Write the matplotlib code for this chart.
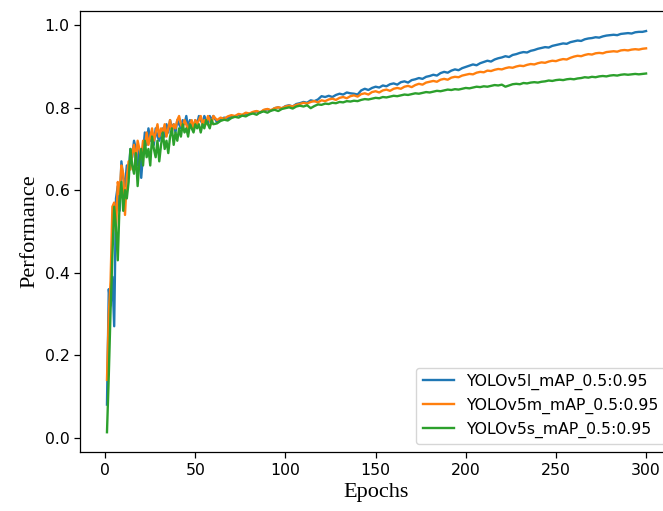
import matplotlib
matplotlib.use("Agg")
import matplotlib.pyplot as plt

# epochs: every epoch up to 60, then every second epoch
epochs = list(range(1, 61)) + list(range(62, 301, 2))

map_l = [
    0.08, 0.36, 0.32, 0.39, 0.27, 0.58, 0.61, 0.55, 0.67, 0.63,
    0.61, 0.66, 0.64, 0.70, 0.68, 0.72, 0.70, 0.66, 0.70, 0.63,
    0.69, 0.74, 0.71, 0.75, 0.72, 0.74, 0.71, 0.75, 0.73, 0.72,
    0.74, 0.75, 0.73, 0.76, 0.74, 0.77, 0.75, 0.76, 0.74, 0.77,
    0.76, 0.75, 0.77, 0.76, 0.78, 0.75, 0.77, 0.76, 0.75, 0.77,
    0.76, 0.78, 0.77, 0.76, 0.78, 0.77, 0.76, 0.78, 0.77, 0.78,
    0.765, 0.772, 0.776, 0.774, 0.780, 0.778, 0.783, 0.781, 0.786, 0.784,
    0.789, 0.791, 0.788, 0.794, 0.796, 0.793, 0.799, 0.801, 0.798, 0.804,
    0.806, 0.803, 0.809, 0.811, 0.814, 0.812, 0.818, 0.816, 0.820, 0.828,
    0.826, 0.829, 0.826, 0.831, 0.834, 0.832, 0.837, 0.835, 0.834, 0.832,
    0.842, 0.846, 0.843, 0.848, 0.851, 0.849, 0.854, 0.852, 0.857, 0.859,
    0.856, 0.862, 0.864, 0.861, 0.867, 0.869, 0.872, 0.870, 0.875, 0.877,
    0.880, 0.878, 0.884, 0.887, 0.885, 0.890, 0.893, 0.891, 0.896, 0.899,
    0.902, 0.905, 0.903, 0.908, 0.911, 0.914, 0.912, 0.917, 0.920, 0.922,
    0.925, 0.923, 0.928, 0.930, 0.933, 0.935, 0.934, 0.938, 0.940, 0.943,
    0.945, 0.947, 0.946, 0.950, 0.952, 0.954, 0.956, 0.955, 0.959, 0.961,
    0.963, 0.962, 0.966, 0.968, 0.969, 0.971, 0.970, 0.973, 0.975, 0.976,
    0.977, 0.976, 0.979, 0.980, 0.981, 0.980, 0.983, 0.984, 0.984, 0.986,
]

map_m = [
    0.14, 0.30, 0.38, 0.56, 0.57, 0.50, 0.62, 0.59, 0.66, 0.64,
    0.54, 0.63, 0.67, 0.65, 0.69, 0.71, 0.67, 0.72, 0.70, 0.68,
    0.72, 0.70, 0.74, 0.71, 0.73, 0.75, 0.72, 0.74, 0.76, 0.73,
    0.75, 0.74, 0.76, 0.73, 0.75, 0.77, 0.74, 0.76, 0.75, 0.77,
    0.78, 0.76, 0.75, 0.77, 0.76, 0.74, 0.76, 0.77, 0.75, 0.77,
    0.76, 0.77, 0.78, 0.76, 0.77, 0.76, 0.78, 0.77, 0.76, 0.78,
    0.770, 0.776, 0.773, 0.779, 0.782, 0.780, 0.785, 0.783, 0.788, 0.786,
    0.790, 0.792, 0.789, 0.795, 0.797, 0.794, 0.799, 0.801, 0.799, 0.803,
    0.805, 0.803, 0.807, 0.809, 0.812, 0.810, 0.814, 0.816, 0.813, 0.818,
    0.816, 0.820, 0.822, 0.819, 0.824, 0.826, 0.823, 0.828, 0.830, 0.827,
    0.833, 0.835, 0.832, 0.838, 0.840, 0.837, 0.842, 0.844, 0.841, 0.846,
    0.848, 0.846, 0.851, 0.853, 0.850, 0.855, 0.858, 0.856, 0.861, 0.863,
    0.865, 0.863, 0.868, 0.870, 0.868, 0.873, 0.875, 0.874, 0.878, 0.880,
    0.882, 0.881, 0.885, 0.887, 0.886, 0.890, 0.889, 0.892, 0.894, 0.893,
    0.896, 0.898, 0.897, 0.900, 0.902, 0.901, 0.904, 0.906, 0.905, 0.908,
    0.910, 0.909, 0.912, 0.914, 0.913, 0.916, 0.918, 0.917, 0.921, 0.924,
    0.926, 0.925, 0.928, 0.930, 0.929, 0.932, 0.933, 0.932, 0.935, 0.936,
    0.937, 0.936, 0.939, 0.940, 0.939, 0.941, 0.942, 0.941, 0.943, 0.944,
]

map_s = [
    0.013, 0.15, 0.31, 0.44, 0.56, 0.51, 0.43, 0.57, 0.62, 0.55,
    0.60, 0.58, 0.62, 0.70, 0.66, 0.64, 0.69, 0.61, 0.67, 0.70,
    0.66, 0.72, 0.68, 0.70, 0.66, 0.73, 0.70, 0.68, 0.72, 0.67,
    0.71, 0.74, 0.70, 0.72, 0.69, 0.73, 0.75, 0.71, 0.74, 0.72,
    0.75, 0.73, 0.76, 0.74, 0.75, 0.73, 0.76, 0.75, 0.74, 0.76,
    0.75, 0.76, 0.74, 0.76, 0.75, 0.77, 0.76, 0.75, 0.77, 0.76,
    0.762, 0.768, 0.771, 0.769, 0.775, 0.778, 0.776, 0.781, 0.779, 0.784,
    0.786, 0.783, 0.789, 0.791, 0.788, 0.793, 0.795, 0.792, 0.797, 0.799,
    0.801, 0.798, 0.803, 0.805, 0.803, 0.806, 0.799, 0.804, 0.808, 0.807,
    0.810, 0.809, 0.812, 0.811, 0.814, 0.813, 0.816, 0.815, 0.817, 0.816,
    0.819, 0.821, 0.820, 0.822, 0.824, 0.823, 0.826, 0.825, 0.827, 0.829,
    0.828, 0.830, 0.832, 0.831, 0.833, 0.835, 0.834, 0.836, 0.838, 0.837,
    0.839, 0.841, 0.840, 0.842, 0.844, 0.843, 0.845, 0.844, 0.846, 0.848,
    0.847, 0.849, 0.851, 0.850, 0.852, 0.851, 0.853, 0.855, 0.854, 0.856,
    0.851, 0.854, 0.857, 0.858, 0.857, 0.860, 0.859, 0.861, 0.862, 0.861,
    0.863, 0.864, 0.866, 0.865, 0.867, 0.868, 0.867, 0.869, 0.870, 0.869,
    0.871, 0.872, 0.874, 0.873, 0.875, 0.874, 0.876, 0.877, 0.876, 0.878,
    0.879, 0.878, 0.880, 0.881, 0.880, 0.881, 0.882, 0.881, 0.882, 0.883,
]

labels = ["YOLOv5l_mAP_0.5:0.95", "YOLOv5m_mAP_0.5:0.95", "YOLOv5s_mAP_0.5:0.95"]

fig = plt.figure(figsize=(6.63, 5.11), dpi=100)
# right edge of the axes runs past the picture, as in the source
ax = fig.add_axes([0.1207, 0.1149, 0.8944, 0.8636])

for vals, lab in zip([map_l, map_m, map_s], labels):
    ax.plot(epochs, vals, label=lab, linewidth=1.7)

ax.set_xticks([0, 50, 100, 150, 200, 250, 300])
ax.set_yticks([0.0, 0.2, 0.4, 0.6, 0.8, 1.0])
ax.tick_params(labelsize=11.3, length=4, width=0.9)
for sp in ax.spines.values():
    sp.set_linewidth(0.9)

ax.set_xlabel("Epochs", fontsize=16, family="Liberation Serif")
ax.set_ylabel("Performance", fontsize=16, family="Liberation Serif")
ax.legend(loc="lower right", fontsize=11.3)

fig.savefig("out.png", dpi=100)
